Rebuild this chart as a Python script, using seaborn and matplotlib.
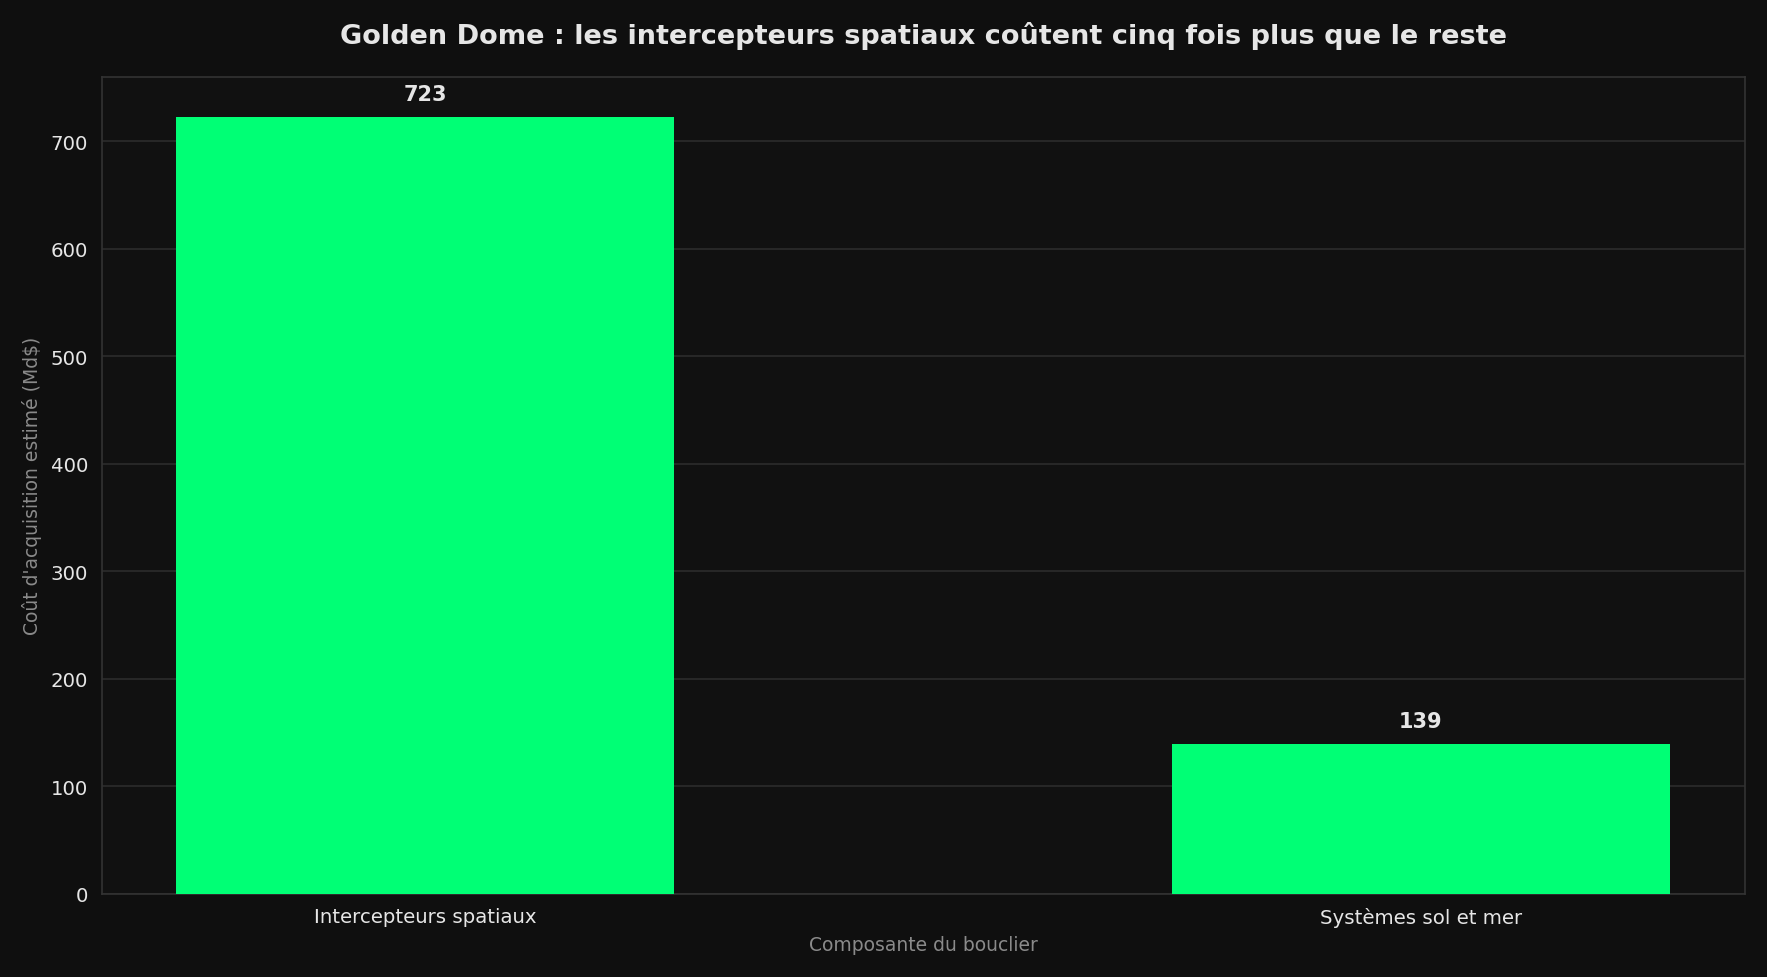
import matplotlib
matplotlib.use("Agg")
import matplotlib.pyplot as plt
import seaborn as sns
import pandas as pd

categories = ["Intercepteurs spatiaux", "Systèmes sol et mer"]
costs = [723, 139]

df = pd.DataFrame({"component": categories, "cost": costs})

sns.set_style("dark")
bg = "#0f0f0f"
fig, ax = plt.subplots(figsize=(11.78, 6.52), dpi=150)
fig.patch.set_facecolor(bg)
ax.set_facecolor("#111111")

sns.barplot(data=df, x="component", y="cost", color="#00ff75", saturation=1,
            width=0.5, linewidth=0, ax=ax, zorder=3)

for i, v in enumerate(costs):
    ax.text(i, v + 12, f"{v}", ha="center", va="bottom", color="#e6e6e6",
            fontsize=10, fontweight="bold")

ax.set_xlim(-0.325, 1.325)
ax.set_ylim(0, 760)
ax.grid(axis="y", color="#2c2c2c", linewidth=0.8, zorder=0)
ax.grid(axis="x", visible=False)
for s in ax.spines.values():
    s.set_color("#333333")
ax.tick_params(colors="#e6e6e6", labelsize=9.5, length=3)
ax.tick_params(axis="both", color="#888888")
ax.set_xlabel("Composante du bouclier", color="#8a8a8a", fontsize=9)
ax.set_ylabel("Coût d'acquisition estimé (Md$)", color="#8a8a8a", fontsize=9)
ax.set_title("Golden Dome : les intercepteurs spatiaux coûtent cinq fois plus que le reste",
             color="#e6e6e6", fontsize=13, fontweight="bold", pad=16)

plt.tight_layout()
plt.savefig("out.png", facecolor=bg)
